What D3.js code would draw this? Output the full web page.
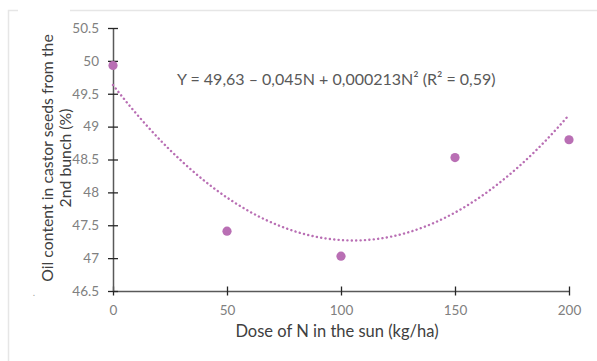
<!DOCTYPE html>
<html lang="en">
<head>
<meta charset="UTF-8">
<title>Oil content</title>
<script src="https://d3js.org/d3.v7.min.js"></script>
<style>
	body { margin: 0; background: #fff; }
	svg text { font-family: Lato, "Open Sans", sans-serif; }
</style>
</head>
<body>
<div id="chart"></div>
<script>
	// values
	const doses = [0, 50, 100, 150, 200]
	const oil = [49.93, 47.41, 47.03, 48.53, 48.80]
	const xTicks = [0, 50, 100, 150, 200]
	const yTicks = [46.5, 47, 47.5, 48, 48.5, 49, 49.5, 50, 50.5]
	const equation = 'Y = 49,63 \u2013 0,045N + 0,000213N\u00b2 (R\u00b2 = 0,59)'

	const width = 597, height = 361
	const color = '#b96fb4'
	const axisColor = '#595959'

	const svg = d3.select('#chart').append('svg').attr('width', width).attr('height', height)

	// faint frame of the pasted chart
	svg.append('path').attr('d', 'M8.5,361 V10.5 H597').attr('fill', 'none').attr('stroke', '#e6e6e6').attr('stroke-width', 1.5)
	svg.append('rect').attr('x', 18).attr('y', 6).attr('width', 52).attr('height', 8).attr('fill', '#fff')

	const x = d3.scaleLinear().domain([0, 200]).range([113, 569])
	const y = d3.scaleLinear().domain([46.5, 50.5]).range([291, 28])

	// least squares quadratic, like the spreadsheet trendline
	function quadFit(xs, ys) {
		const n = xs.length
		let s = [0, 0, 0, 0, 0], t = [0, 0, 0]
		for (let i = 0; i < n; i++) {
			for (let k = 0; k < 5; k++) s[k] += Math.pow(xs[i], k)
			for (let k = 0; k < 3; k++) t[k] += Math.pow(xs[i], k) * ys[i]
		}
		const m = [[s[0], s[1], s[2], t[0]], [s[1], s[2], s[3], t[1]], [s[2], s[3], s[4], t[2]]]
		for (let i = 0; i < 3; i++) {
			for (let j = i + 1; j < 3; j++) {
				const f = m[j][i] / m[i][i]
				for (let k = i; k < 4; k++) m[j][k] -= f * m[i][k]
			}
		}
		const c = [0, 0, 0]
		for (let i = 2; i >= 0; i--) {
			let v = m[i][3]
			for (let k = i + 1; k < 3; k++) v -= m[i][k] * c[k]
			c[i] = v / m[i][i]
		}
		return c
	}
	const coef = quadFit(doses, oil)
	const curve = d3.range(0, 201, 2).map(d => [d, coef[0] + coef[1] * d + coef[2] * d * d])

	// axes
	const xAxis = d3.axisBottom(x).tickValues(xTicks).tickSize(0).tickPadding(14)
	const yAxis = d3.axisLeft(y).tickValues(yTicks).tickSize(0).tickPadding(14).tickFormat(d3.format('.1~f'))

	const gx = svg.append('g').attr('transform', 'translate(0,291)').call(xAxis)
	const gy = svg.append('g').attr('transform', 'translate(113,0)').call(yAxis)
	for (const g of [gx, gy]) {
		g.attr('font-family', null)
		g.select('.domain').attr('stroke', axisColor).attr('stroke-width', 1.5)
		g.selectAll('text').attr('fill', '#808080').attr('font-size', 13.5)
	}
	gx.selectAll('.tick').append('line').attr('y1', -4.5).attr('y2', 4.5).attr('stroke', '#262626').attr('stroke-width', 1.3)
	gy.selectAll('.tick').append('line').attr('x1', -5).attr('x2', 5).attr('stroke', '#262626').attr('stroke-width', 1.3)

	// trendline
	svg.append('path')
		.datum(curve)
		.attr('d', d3.line().x(d => x(d[0])).y(d => y(d[1])))
		.attr('fill', 'none')
		.attr('stroke', color)
		.attr('stroke-width', 2.4)
		.attr('stroke-linecap', 'round')
		.attr('stroke-dasharray', '0.1,4.3')

	// points
	svg.selectAll('circle.pt')
		.data(doses)
		.join('circle')
		.attr('class', 'pt')
		.attr('cx', d => x(d))
		.attr('cy', (d, i) => y(oil[i]))
		.attr('r', 4.6)
		.attr('fill', color)

	// equation
	svg.append('text').attr('x', 177).attr('y', 85).attr('fill', '#595959').attr('font-size', 16).text(equation)

	// axis titles
	svg.append('text').attr('x', 337).attr('y', 337).attr('text-anchor', 'middle').attr('fill', '#404040').attr('font-size', 16.5)
		.text('Dose of N in the sun (kg/ha)')
	const yt = svg.append('text').attr('transform', 'translate(53,158) rotate(-90)').attr('text-anchor', 'middle').attr('fill', '#404040').attr('font-size', 15.8)
	yt.append('tspan').attr('x', 0).attr('y', 0).text('Oil content in castor seeds from the')
	yt.append('tspan').attr('x', 0).attr('y', 18).text('2nd bunch (%)')
	svg.append('text').attr('x', 34).attr('y', 296).attr('text-anchor', 'middle').attr('fill', '#a6a6a6').attr('font-size', 10).text('.')
</script>
</body>
</html>
